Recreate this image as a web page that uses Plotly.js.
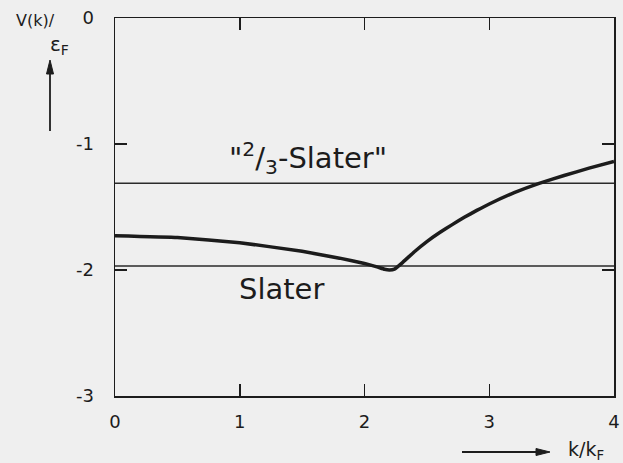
<!DOCTYPE html>
<html>
<head>
<meta charset="utf-8">
<script src="https://cdn.plot.ly/plotly-3.0.1.min.js"></script>
<style>html,body{margin:0;padding:0;background:#efefef;}#chart{width:623px;height:463px;}</style>
</head>
<body>
<div id="chart"></div>
<script>
// k / k_F values along the V(k) curve
const kValues = [0, 0.5, 1.0, 1.5, 1.8, 2.0, 2.1, 2.16, 2.2, 2.24, 2.3, 2.4, 2.5, 2.6, 2.7, 2.8, 2.9, 3.0, 3.2, 3.4, 3.6, 3.8, 4.0];
// V(k) / eps_F
const vValues = [-1.728, -1.742, -1.783, -1.852, -1.906, -1.948, -1.975, -1.994, -2.0, -1.993, -1.945, -1.855, -1.775, -1.705, -1.642, -1.582, -1.527, -1.476, -1.386, -1.312, -1.25, -1.192, -1.139];
// constant reference potentials
const slaterLevel = -1.968;
const twoThirdsSlaterLevel = -1.312;
const lineRangeK = [0, 4];
// tick labels
const xTickVals = [0, 1, 2, 3, 4];
const xTickText = ["0", "1", "2", "3", "4"];
const yTickVals = [0, -1, -2, -3];
const yTickText = ["0", "-1", "-2", "-3"];

const ink = "#1c1c1c";
const font = "DejaVu Sans, sans-serif";

// plot area geometry (pixels) for converting decorative arrow positions
const W = 623, H = 463, ML = 115, MR = 9, MT = 18, MB = 67;
const PW = W - ML - MR, PH = H - MT - MB;
const px = v => (v - ML) / PW;
const py = v => (H - MB - v) / PH;

const traces = [
  {x: lineRangeK, y: [twoThirdsSlaterLevel, twoThirdsSlaterLevel], mode: "lines",
   line: {color: "#2a2a2a", width: 1.5}, hoverinfo: "skip"},
  {x: lineRangeK, y: [slaterLevel, slaterLevel], mode: "lines",
   line: {color: "#2a2a2a", width: 1.5}, hoverinfo: "skip"},
  {x: kValues, y: vValues, mode: "lines",
   line: {color: ink, width: 3.5, shape: "spline", smoothing: 0.3}}
];

const axisCommon = {
  showline: true, linecolor: ink, linewidth: 1.5, mirror: "ticks",
  ticks: "inside", ticklen: 12, tickwidth: 1.5, tickcolor: ink,
  showgrid: false, zeroline: false, fixedrange: true,
  tickfont: {family: font, size: 18, color: ink}
};

function arrowShapes(x0, y0, x1, y1) {
  // line from (x0,y0) to tip (x1,y1) in pixels, with a slim filled head
  const dx = x1 - x0, dy = y1 - y0, len = Math.hypot(dx, dy);
  const ux = dx / len, uy = dy / len, hl = 14, hw = 3.5;
  const bx = x1 - ux * hl, by = y1 - uy * hl;
  const p1 = [bx - uy * hw, by + ux * hw], p2 = [bx + uy * hw, by - ux * hw];
  return [
    {type: "line", xref: "paper", yref: "paper", x0: px(x0), y0: py(y0), x1: px(bx), y1: py(by),
     line: {color: ink, width: 1.8}},
    {type: "path", xref: "paper", yref: "paper",
     path: `M ${px(x1)},${py(y1)} L ${px(p1[0])},${py(p1[1])} L ${px(p2[0])},${py(p2[1])} Z`,
     fillcolor: ink, line: {color: ink, width: 1}}
  ];
}

const layout = {
  width: W, height: H,
  margin: {l: ML, r: MR, t: MT, b: MB},
  paper_bgcolor: "#efefef", plot_bgcolor: "#efefef",
  showlegend: false,
  xaxis: Object.assign({}, axisCommon, {
    range: [0, 4], tickmode: "array", tickvals: xTickVals, ticktext: xTickText,
    ticklabelstandoff: 9
  }),
  yaxis: Object.assign({}, axisCommon, {
    range: [-3, 0], tickmode: "array", tickvals: yTickVals, ticktext: yTickText,
    ticklabelstandoff: 16
  }),
  shapes: [].concat(arrowShapes(50, 131, 50, 60), arrowShapes(462, 452, 550, 452)),
  annotations: [
    {x: 1.547, y: -1.11, xref: "x", yref: "y", showarrow: false,
     text: "\"<sup>2</sup>/<sub>3</sub>-Slater\"", font: {family: font, size: 29, color: ink}},
    {x: 1.335, y: -2.15, xref: "x", yref: "y", showarrow: false,
     text: "Slater", font: {family: font, size: 29, color: ink}},
    // y-axis title
    {x: px(14), y: py(20), xref: "paper", yref: "paper", xanchor: "left", yanchor: "middle",
     showarrow: false, text: "V(k)/", font: {family: font, size: 16, color: ink}},
    {x: px(48), y: py(45), xref: "paper", yref: "paper", xanchor: "left", yanchor: "middle",
     showarrow: false, text: "\u03B5<sub>F</sub>", font: {family: font, size: 20, color: ink}},
    // x-axis title
    {x: px(566), y: py(450), xref: "paper", yref: "paper", xanchor: "left", yanchor: "middle",
     showarrow: false, text: "k/k<sub>F</sub>", font: {family: font, size: 19, color: ink}}
  ]
};

Plotly.newPlot("chart", traces, layout, {displayModeBar: false, staticPlot: true});
</script>
</body>
</html>
